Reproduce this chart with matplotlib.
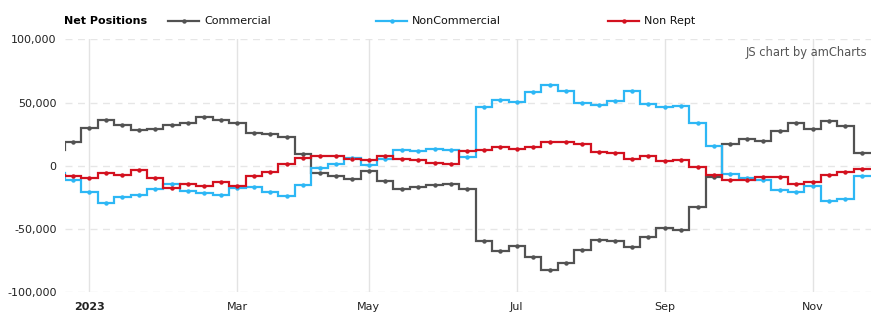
import numpy as np
import matplotlib.pyplot as plt
from matplotlib.lines import Line2D

# weekly net positions, first value is the week before Dec 27 2022 (cut by the axis)
weeks = np.arange(-1, 49)
commercial = [12400, 19200, 30200, 36000, 32000, 28100, 28900, 32000, 34200, 38400, 36600,
              34200, 26300, 25500, 23100, 9200, -5300, -7600, -10000, -4200, -11600,
              -17900, -16300, -14700, -13900, -18400, -59200, -67100, -63400, -72300, -82100,
              -76800, -66800, -58400, -59700, -64400, -56500, -49200, -51000, -32100, -8700,
              17600, 21600, 20000, 27900, 34200, 29500, 35800, 31800, 10300]
noncommercial = [-5800, -11000, -20300, -28900, -24200, -23100, -17900, -14200, -19500, -21000, -23100,
                 -17100, -16800, -20300, -23900, -14700, -1800, 1800, 6000, 1000, 5300,
                 12900, 12100, 13700, 12600, 7400, 46800, 52100, 50800, 58600, 64200,
                 59400, 50000, 47900, 51500, 59400, 48700, 46800, 47100, 34200, 16000,
                 -6000, -9700, -10800, -18700, -20500, -16000, -27600, -25800, -7900]
nonrept = [-6800, -8200, -9200, -5300, -6800, -3400, -9700, -17100, -14200, -16000, -12400,
           -16000, -8200, -4500, 1800, 6600, 8200, 7600, 5500, 4500, 7600,
           5800, 5000, 2600, 1600, 12100, 12900, 15300, 13700, 15300, 18700,
           18700, 17600, 11300, 10000, 5800, 8200, 4200, 5000, -500, -6800,
           -10800, -10800, -8400, -8400, -14200, -12400, -7400, -4500, -2100]

tick_weeks = [1, 10, 18, 27, 36, 45]
tick_labels = ['2023', 'Mar', 'May', 'Jul', 'Sep', 'Nov']
yticks = [-100000, -50000, 0, 50000, 100000]

series = [('Commercial', commercial, '#525252'),
          ('NonCommercial', noncommercial, '#2db7f5'),
          ('Non Rept', nonrept, '#d3111f')]

fig = plt.figure(figsize=(8.85, 3.26), dpi=100)
ax = fig.add_axes([0.0734, 0.1028, 0.9107, 0.7762])

edges = np.append(weeks - 0.5, weeks[-1] + 0.55)
for name, vals, col in series:
    ax.stairs(vals, edges, baseline=None, color=col, lw=1.6)
    ax.plot(weeks, vals, 'o', color=col, ms=3.2, mew=0)

ax.set_xlim(-0.49, 48.55)
ax.set_ylim(-100000, 100000)
for s in ax.spines.values():
    s.set_visible(False)

ax.set_yticks(yticks)
ax.set_yticklabels([f'{v:,}' for v in yticks], fontsize=8, color='#222222')
ax.set_xticks(tick_weeks)
ax.set_xticklabels(tick_labels, fontsize=8, color='#222222')
ax.get_xticklabels()[0].set_fontweight('bold')
ax.tick_params(length=0, pad=7)
ax.tick_params(axis='y', pad=6)

for v in yticks:
    ax.axhline(v, color='#e6e6e6', lw=1, ls=(0, (5, 4)), zorder=0)
for w in tick_weeks:
    ax.axvline(w, color='#e3e3e3', lw=1, zorder=0)

ax.text(0.996, 0.95, 'JS chart by amCharts', transform=ax.transAxes,
        ha='right', va='center', fontsize=8.3, color='#555555')

# legend row at top
ly = 1 - 21 / 326
fig.text(64 / 885, ly, 'Net Positions', fontsize=8, fontweight='bold', va='center')
for (name, vals, col), x0 in zip(series, [168, 376, 608]):
    fig.add_artist(Line2D([x0 / 885, (x0 + 31) / 885], [ly, ly], color=col, lw=1.6))
    fig.add_artist(Line2D([(x0 + 15.5) / 885], [ly], marker='o', color=col, ms=3.2, mew=0))
    fig.text((x0 + 36) / 885, ly, name, fontsize=8, va='center', color='#111111')

fig.savefig('out.png', dpi=100)
